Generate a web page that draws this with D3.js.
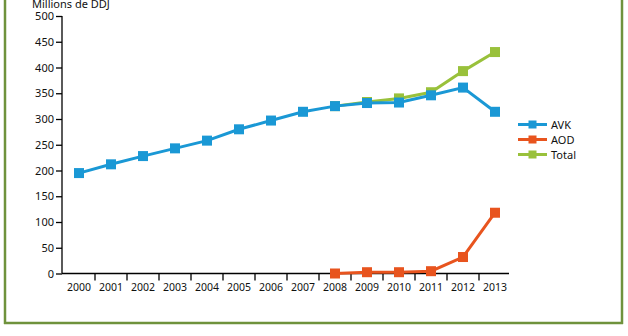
<!DOCTYPE html>
<html><head><meta charset="utf-8">
<script src="https://cdn.jsdelivr.net/npm/d3@7"></script>
<style>body{margin:0;background:#fff}svg{display:block}</style>
</head><body>
<svg id="c" width="628" height="336"></svg>
<script>
const years = ["2000","2001","2002","2003","2004","2005","2006","2007","2008","2009","2010","2011","2012","2013"];
const avk = [195,212,228,243,258,280,297,314,325,331,332,346,361,314];
const aod = [null,null,null,null,null,null,null,null,0,2.5,2.5,4.5,32,118];
const total = [null,null,null,null,null,null,null,null,325,333,340,352,393,430];
const yTicks = [0,50,100,150,200,250,300,350,400,450,500];
const seriesNames = ["AVK","AOD","Total"];
const colors = {AVK:"#1a98d5", AOD:"#e8541e", Total:"#99c13b"};

const svg = d3.select("#c");
const font = "'Noto Sans', sans-serif";
// frame
const frame = "#6f923c";
svg.append("line").attr("x1",5).attr("x2",5).attr("y1",0).attr("y2",324).attr("stroke",frame).attr("stroke-width",2.5);
svg.append("line").attr("x1",622).attr("x2",622).attr("y1",0).attr("y2",324).attr("stroke",frame).attr("stroke-width",2.5);
svg.append("line").attr("x1",4).attr("x2",623).attr("y1",323).attr("y2",323).attr("stroke",frame).attr("stroke-width",2.5);

const x = d3.scaleBand().domain(years).range([63,511]);
const y = d3.scaleLinear().domain([0,500]).range([273.5,16]);

// y axis
const ya = svg.append("g").attr("transform","translate(62,0)")
  .call(d3.axisLeft(y).tickValues(yTicks).tickSize(6).tickPadding(2));
ya.select(".domain").attr("stroke","#000").attr("stroke-width",1.3).attr("d","M0,16V273.5");
ya.selectAll(".tick line").attr("stroke","#000").attr("stroke-width",1.3);
ya.selectAll("text").attr("font-family",font).attr("font-size",11).attr("fill","#111");

// x axis
const xa = svg.append("g").attr("transform","translate(0,273.5)");
xa.append("line").attr("x1",62).attr("x2",509).attr("stroke","#000").attr("stroke-width",1.3);
xa.selectAll("line.t").data(years.slice(1)).join("line").attr("class","t")
  .attr("x1",d=>x(d)).attr("x2",d=>x(d)).attr("y1",0).attr("y2",7).attr("stroke","#000").attr("stroke-width",1.3);
xa.selectAll("text").data(years).join("text")
  .attr("x",d=>x(d)+x.bandwidth()/2).attr("y",17).attr("text-anchor","middle")
  .attr("font-family",font).attr("font-size",10.5).attr("fill","#111").text(d=>d);

// title
svg.append("text").attr("x",32).attr("y",8).attr("font-family",font).attr("font-size",11).attr("fill","#111").text("Millions de DDJ");

const cx = d => x(d)+x.bandwidth()/2;
function draw(name, vals){
  const pts = years.map((yr,i)=>({yr, v:vals[i]})).filter(d=>d.v!==null);
  const line = d3.line().x(d=>cx(d.yr)).y(d=>y(d.v));
  svg.append("path").datum(pts).attr("d",line).attr("fill","none").attr("stroke",colors[name]).attr("stroke-width",3);
  svg.selectAll("rect.m"+name).data(pts).join("rect").attr("class","m"+name)
    .attr("x",d=>cx(d.yr)-5).attr("y",d=>y(d.v)-5).attr("width",10).attr("height",10).attr("fill",colors[name]);
}
draw("Total", total);
draw("AOD", aod);
draw("AVK", avk);

// legend
const lg = svg.append("g").attr("transform","translate(518,124.5)");
seriesNames.forEach((n,i)=>{
  const g = lg.append("g").attr("transform",`translate(0,${i*15})`);
  g.append("line").attr("x1",0).attr("x2",29).attr("stroke",colors[n]).attr("stroke-width",3);
  g.append("rect").attr("x",10.5).attr("y",-4).attr("width",8).attr("height",8).attr("fill",colors[n]);
  g.append("text").attr("x",33).attr("y",4).attr("font-family",font).attr("font-size",11).attr("fill","#111").text(n);
});
</script>
</body></html>
